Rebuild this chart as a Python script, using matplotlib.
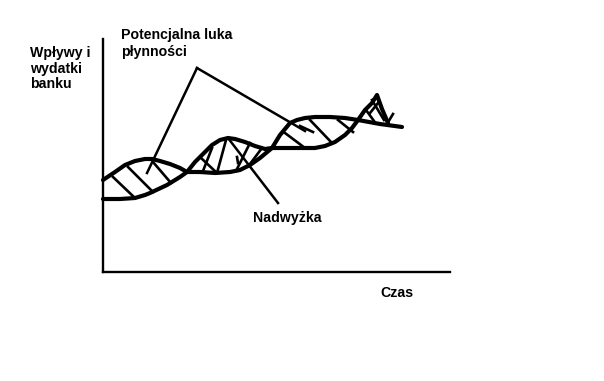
import matplotlib
matplotlib.use("Agg")
import matplotlib.pyplot as plt

# schematic: time on x, bank inflows / outflows on y (chart units ~ pixels)
# curve A: upper in the 1st and 3rd wave, curve B: upper in the 2nd and 4th
curve_a_t = [0, 12, 22, 32, 42, 49, 57, 67, 77, 84, 97, 112, 127, 137, 147, 157,
             169, 177, 187, 194, 202, 212, 227, 242, 255, 277, 299]
curve_a_v = [92, 100, 107, 111, 113, 113, 111, 108, 104, 100, 100, 99, 100, 102, 107, 114,
             124, 137, 149, 152, 154, 155, 155, 154, 152, 148, 145]

curve_b_t = [0, 17, 32, 42, 47, 64, 77, 84, 92, 102, 109, 117, 125, 132, 142, 152,
             162, 169, 177, 197, 212, 222, 232, 242, 249, 255, 262, 269, 274, 279, 285]
curve_b_v = [73, 73, 74, 77, 79, 87, 95, 100, 110, 120, 127, 132, 134, 133, 130, 126,
             123, 124, 124, 124, 124, 126, 130, 137, 144, 152, 162, 169, 177, 163, 149]

# hatch strokes inside the lenses: (t0, v0, t1, v1)
hatch_lines = [
    (10, 95, 32, 74), (25, 105, 50, 80), (50, 110, 68, 89),
    (97, 115, 114, 99), (100, 101, 109, 124), (114, 99, 123, 132),
    (133, 101, 147, 129), (147, 108, 159, 124), (134, 115, 135, 109),
    (182, 139, 202, 124), (207, 152, 229, 129), (235, 152, 250, 140), (197, 146, 210, 140),
    (269, 172, 281, 152), (263, 162, 271, 151), (275, 169, 267, 159), (284, 148, 290, 158),
]

# pointer lines from the labels
pointer_lines = [
    (94, 204, 44, 99),
    (94, 204, 202, 141),
    (125, 134, 175, 69),
]

labels = [
    ("Potencjalna luka", 18, 233.5),
    ("płynności", 18, 216),
    ("Wpływy i", -73, 215),
    ("wydatki", -73, 199),
    ("banku", -73, 184),
    ("Nadwyżka", 150, 50),
    ("Czas", 277, -25),
]

fig = plt.figure(figsize=(6.04, 3.81), dpi=100)
ax = fig.add_axes([103 / 604, 109 / 381, 347 / 604, 233 / 381])
ax.set_xlim(0, 347)
ax.set_ylim(0, 233)
ax.set_xticks([])
ax.set_yticks([])
for side in ["top", "right"]:
    ax.spines[side].set_visible(False)
for side in ["left", "bottom"]:
    ax.spines[side].set_linewidth(1.7)
    ax.spines[side].set_color("black")

ax.plot(curve_a_t, curve_a_v, color="black", lw=3.0, solid_joinstyle="round",
        solid_capstyle="round", clip_on=False)
ax.plot(curve_b_t, curve_b_v, color="black", lw=3.0, solid_joinstyle="round",
        solid_capstyle="round", clip_on=False)

for t0, v0, t1, v1 in hatch_lines:
    ax.plot([t0, t1], [v0, v1], color="black", lw=1.9, clip_on=False)
for t0, v0, t1, v1 in pointer_lines:
    ax.plot([t0, t1], [v0, v1], color="black", lw=1.8, clip_on=False)

for txt, t, v in labels:
    ax.text(t, v, txt, ha="left", va="baseline", fontsize=10.2, fontweight="bold",
            family=["Liberation Sans", "DejaVu Sans"], clip_on=False)

fig.savefig("out.png", dpi=100)
